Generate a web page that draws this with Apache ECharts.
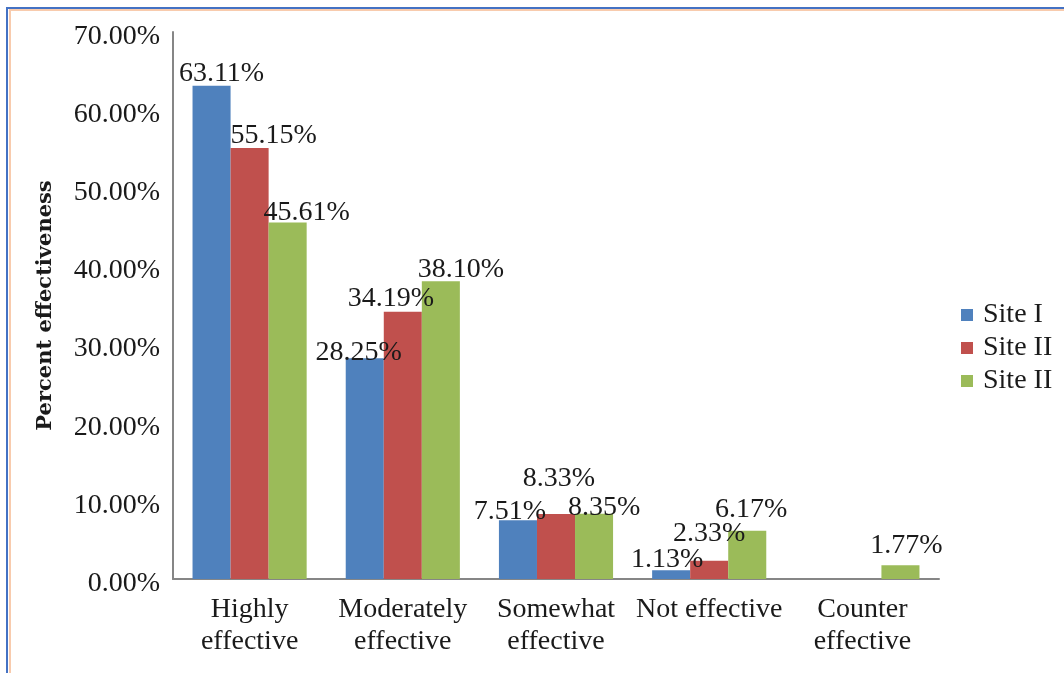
<!DOCTYPE html>
<html>
<head>
<meta charset="utf-8">
<script src="https://cdn.jsdelivr.net/npm/echarts@6/dist/echarts.min.js"></script>
<style>
  html, body { margin: 0; padding: 0; background: #ffffff; }
  #chart { width: 1064px; height: 673px; }
</style>
</head>
<body>
<div id="chart"></div>
<script>
// Effectiveness ratings per site (percent)
const categories = ['Highly\neffective', 'Moderately\neffective', 'Somewhat\neffective', 'Not effective', 'Counter\neffective'];
const seriesNames = ['Site I', 'Site II', 'Site II'];
const siteI   = [63.11, 28.25, 7.51, 1.13, null];
const siteII  = [55.15, 34.19, 8.33, 2.33, null];
const siteIII = [45.61, 38.10, 8.35, 6.17, 1.77];
const yTicks = { min: 0, max: 70, step: 10 };

// Hand-placed value label nudges [dx, dy] in pixels
const labelNudgeI   = [[10, 4], [-6, 10], [-8, 7], [-4, 5], [0, 0]];
const labelNudgeII  = [[24, 4], [-12, 3], [3, -19], [0, -11], [0, 0]];
const labelNudgeIII = [[19, 6], [20, 4], [10, 10], [4, -5], [6, -4]];

const colors = ['#4F81BD', '#C0504D', '#9BBB59'];
const serif = '"Liberation Serif", "Times New Roman", serif';
const textColor = '#1a1a1a';

function buildData(values, nudges) {
  return values.map((v, i) => ({
    value: v,
    label: { offset: nudges[i] }
  }));
}

const chart = echarts.init(document.getElementById('chart'), null, { renderer: 'canvas' });

const barLabel = {
  show: true,
  position: 'top',
  distance: 2,
  fontFamily: serif,
  fontSize: 28,
  color: textColor,
  formatter: p => p.value == null ? '' : p.value.toFixed(2) + '%'
};

// legend entries: third series shares the printed name, keyed uniquely
const legendKeys = seriesNames.map((n, i) => n + ' '.repeat(i === 2 ? 1 : 0));

chart.setOption({
  backgroundColor: '#ffffff',
  animation: false,
  color: colors,
  graphic: [
    // frame along the top and left edges
    { type: 'line', shape: { x1: 7, y1: 8, x2: 1064, y2: 8 }, style: { stroke: '#4472C4', lineWidth: 2 } },
    { type: 'line', shape: { x1: 9, y1: 10, x2: 1064, y2: 10 }, style: { stroke: '#F8CBAD', lineWidth: 2 } },
    { type: 'line', shape: { x1: 7, y1: 7, x2: 7, y2: 673 }, style: { stroke: '#4472C4', lineWidth: 2 } },
    { type: 'line', shape: { x1: 10, y1: 9, x2: 10, y2: 673 }, style: { stroke: '#F8CBAD', lineWidth: 2 } }
  ],
  grid: { left: 173, right: 125, top: 32, bottom: 94, containLabel: false },
  legend: {
    orient: 'vertical',
    left: 956,
    top: 296,
    itemWidth: 12,
    itemHeight: 12,
    itemGap: 5,
    icon: 'rect',
    textStyle: { fontFamily: serif, fontSize: 28, color: textColor, padding: [0, 0, 0, 5] },
    data: legendKeys,
    formatter: n => n.trim()
  },
  xAxis: {
    type: 'category',
    data: categories,
    axisLine: { show: true, lineStyle: { color: '#868686', width: 2 } },
    axisTick: { show: false },
    axisLabel: {
      fontFamily: serif,
      fontSize: 28,
      color: textColor,
      lineHeight: 32,
      margin: 15,
      interval: 0
    }
  },
  yAxis: {
    type: 'value',
    min: yTicks.min,
    max: yTicks.max,
    interval: yTicks.step,
    name: 'Percent effectiveness',
    nameLocation: 'middle',
    nameGap: 117,
    nameTextStyle: { fontFamily: '"DejaVu Serif", serif', fontWeight: 'bold', fontSize: 21, color: textColor },
    axisLine: { show: true, lineStyle: { color: '#868686', width: 2 } },
    axisTick: { show: false },
    splitLine: { show: false },
    axisLabel: {
      fontFamily: serif,
      fontSize: 28,
      color: textColor,
      margin: 13,
      formatter: v => '{t|' + v.toFixed(2) + '%}',
      rich: {
        t: { fontFamily: serif, fontSize: 28, color: textColor, padding: [9, 0, 0, 0] }
      }
    }
  },
  series: [
    { name: legendKeys[0], type: 'bar', data: buildData(siteI, labelNudgeI), barGap: '0%', barCategoryGap: '25.5%', label: barLabel },
    { name: legendKeys[1], type: 'bar', data: buildData(siteII, labelNudgeII), barGap: '0%', barCategoryGap: '25.5%', label: barLabel },
    { name: legendKeys[2], type: 'bar', data: buildData(siteIII, labelNudgeIII), barGap: '0%', barCategoryGap: '25.5%', label: barLabel }
  ]
});
</script>
</body>
</html>
